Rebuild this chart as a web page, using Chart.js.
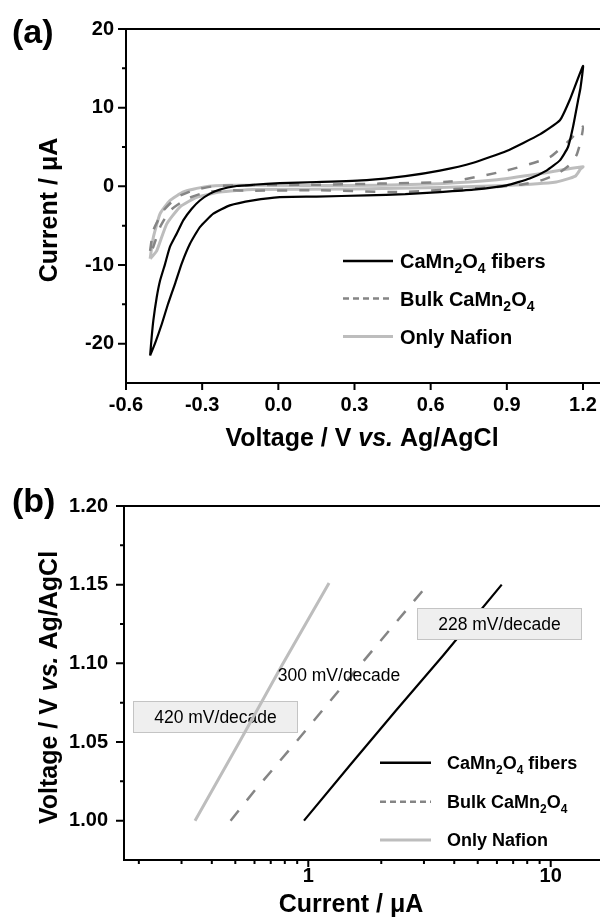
<!DOCTYPE html>
<html><head><meta charset="utf-8">
<script src="https://cdn.jsdelivr.net/npm/chart.js@4.4.0/dist/chart.umd.min.js"></script>
<style>
html,body{margin:0;padding:0;background:#fff;width:600px;height:917px;overflow:hidden}
canvas{position:absolute;left:0}
#c1{top:0}
#c2{top:460px}
</style></head><body>
<canvas id="c1" width="600" height="460"></canvas>
<canvas id="c2" width="600" height="457"></canvas>
<script>
// ---------- (a) cyclic voltammetry ----------
const seriesNames = ['CaMn_2O_4 fibers', 'Bulk CaMn_2O_4', 'Only Nafion'];

const fibersV = [-0.505,-0.499,-0.4925,-0.479,-0.466,-0.446,-0.427,-0.40,-0.374,-0.341,-0.309,-0.269,-0.23,-0.164,-0.099,0.006,0.15,0.348,0.5,0.636,0.768,0.899,1.03,1.109,1.148,1.2,
                 1.19,1.181,1.161,1.141,1.109,1.056,0.99,0.899,0.768,0.636,0.5,0.348,0.15,0.006,-0.099,-0.191,-0.256,-0.309,-0.348,-0.381,-0.407,-0.434,-0.459,-0.486,-0.505];
const fibersI = [-21.5,-19.2,-17.1,-14.1,-12.0,-9.85,-7.7,-6.0,-4.3,-2.85,-1.8,-0.93,-0.4,0.04,0.2,0.4,0.55,0.8,1.3,2.0,3.0,4.5,6.6,8.4,11.0,15.3,
                 12.5,11.0,7.6,5.0,3.3,2.0,1.0,0.13,-0.42,-0.73,-1.0,-1.15,-1.3,-1.36,-1.78,-2.42,-3.48,-5.18,-7.3,-9.85,-12.4,-14.9,-17.5,-20.0,-21.5];

const bulkV = [-0.505,-0.4925,-0.453,-0.40,-0.335,-0.256,-0.112,0.15,0.4,0.676,0.899,1.069,1.148,1.2,
               1.19,1.175,1.15,1.1,1.03,0.95,0.85,0.7,0.48,0.15,-0.112,-0.191,-0.282,-0.361,-0.427,-0.466,-0.4925,-0.505];
const bulkI = [-8.2,-5.6,-3.1,-1.4,-0.5,0.0,0.15,0.2,0.35,0.6,2.0,3.7,5.9,7.6,
               5.6,4.0,2.8,1.6,0.7,0.2,-0.1,-0.35,-0.73,-0.5,-0.55,-0.5,-0.73,-1.6,-3.1,-5.2,-7.7,-8.2];

const nafionV = [-0.505,-0.4925,-0.466,-0.427,-0.374,-0.296,-0.19,0.1,0.4,0.636,0.85,1.03,1.12,1.2,
                 1.19,1.17,1.095,0.899,0.636,0.3,-0.1,-0.23,-0.322,-0.387,-0.44,-0.479,-0.505];
const nafionI = [-9.2,-6.5,-3.5,-1.8,-0.7,-0.1,0.13,0.1,0.15,0.34,0.8,1.6,2.1,2.5,
                 2.2,1.3,0.55,0.1,-0.15,-0.35,-0.4,-0.73,-1.4,-2.6,-4.8,-8.2,-9.2];

const cvVoltTicks = [-0.6,-0.3,0.0,0.3,0.6,0.9,1.2];
const cvCurrTicks = [-20,-10,0,10,20];
const cvCurrMinor = [-15,-5,5,15];

// ---------- (b) Tafel plots ----------
const tafelFibersI = [0.96,1.5,2.3,3.6,6.28];
const tafelFibersV = [1.000,1.036,1.070,1.105,1.150];
const tafelBulkI = [0.478,0.60,0.89,1.66,3.11];
const tafelBulkV = [1.000,1.019,1.050,1.100,1.150];
const tafelNafionI = [0.341,0.52,0.78,1.218];
const tafelNafionV = [1.000,1.050,1.099,1.151];

const tafelCurrTicks = [1,10];
const tafelCurrMinor = [0.2,0.3,0.4,0.5,0.6,0.7,0.8,0.9,2,3,4,5,6,7,8,9];
const tafelVoltTicks = [1.00,1.05,1.10,1.15,1.20];
const tafelVoltMinor = [1.025,1.075,1.125,1.175];
const slopeLabels = ['228 mV/decade','300 mV/decade','420 mV/decade'];

// ---------- helpers ----------
const FONT = '"Liberation Sans", Arial, Helvetica, sans-serif';
const COL = ['#000000','#858585','#bdbdbd'];
const pts = (xs, ys) => xs.map((v,i)=>({x:v, y:ys[i]}));

function parseRich(s){
  const parts=[]; let it=false, buf='';
  const flush=()=>{ if(buf){parts.push({t:buf,it}); buf='';} };
  for(let i=0;i<s.length;i++){
    const c=s[i];
    if(c==='*'){flush(); it=!it;}
    else if(c==='_'){flush(); parts.push({t:s[i+1],it,sub:true}); i++;}
    else buf+=c;
  }
  flush(); return parts;
}
function drawRich(ctx, s, x, y, size, align){
  const parts=parseRich(s);
  const f=p=>`${p.it?'italic ':''}bold ${p.sub?Math.round(size*0.68):size}px ${FONT}`;
  let w=0; parts.forEach(p=>{ctx.font=f(p); w+=ctx.measureText(p.t).width;});
  let cx = align==='center' ? x-w/2 : x;
  ctx.textAlign='left'; ctx.textBaseline='alphabetic'; ctx.fillStyle='#000';
  parts.forEach(p=>{ctx.font=f(p); ctx.fillText(p.t, cx, y+(p.sub?size*0.24:0)); cx+=ctx.measureText(p.t).width;});
}
function drawLegend(ctx, x0, x1, tx, rows, size){
  const styles=[{w:2.5,d:[]},{w:2.5,d:[6,4]},{w:3,d:[]}];
  rows.forEach((ry,i)=>{
    ctx.save();
    ctx.strokeStyle=COL[i]; ctx.lineWidth=styles[i].w; ctx.setLineDash(styles[i].d);
    ctx.beginPath(); ctx.moveTo(x0,ry); ctx.lineTo(x1,ry); ctx.stroke();
    ctx.restore();
    drawRich(ctx, seriesNames[i], tx, ry+size*0.36, size, 'left');
  });
}
function frameAndTicks(chart, o){
  const {ctx, chartArea:a, scales} = chart;
  ctx.save();
  ctx.strokeStyle='#000'; ctx.lineWidth=2; ctx.lineCap='butt';
  ctx.beginPath();
  ctx.moveTo(a.left-1, a.top); ctx.lineTo(600, a.top);
  ctx.moveTo(a.left, a.top-1); ctx.lineTo(a.left, a.bottom+1);
  ctx.moveTo(a.left-1, a.bottom); ctx.lineTo(600, a.bottom);
  o.xMajor.forEach(v=>{const p=scales.x.getPixelForValue(v); ctx.moveTo(p,a.bottom); ctx.lineTo(p,a.bottom+o.xMajLen);});
  o.xMinor.forEach(v=>{const p=scales.x.getPixelForValue(v); ctx.moveTo(p,a.bottom); ctx.lineTo(p,a.bottom+o.xMinLen);});
  o.yMajor.forEach(v=>{const p=scales.y.getPixelForValue(v); ctx.moveTo(a.left,p); ctx.lineTo(a.left-8,p);});
  o.yMinor.forEach(v=>{const p=scales.y.getPixelForValue(v); ctx.moveTo(a.left,p); ctx.lineTo(a.left-4,p);});
  ctx.stroke();
  ctx.restore();
}
function tickFont(){ return {family:FONT, size:20, weight:'bold'}; }

// ---------- chart (a) ----------
new Chart(document.getElementById('c1'), {
  type:'scatter',
  data:{datasets:[
    {label:seriesNames[0], data:pts(fibersV,fibersI), showLine:true, borderColor:COL[0], borderWidth:2.2, pointRadius:0, tension:0.15},
    {label:seriesNames[1], data:pts(bulkV,bulkI), showLine:true, borderColor:COL[1], borderWidth:2.5, borderDash:[10,12], pointRadius:0, tension:0.15},
    {label:seriesNames[2], data:pts(nafionV,nafionI), showLine:true, borderColor:COL[2], borderWidth:3, pointRadius:0, tension:0.15}
  ]},
  options:{
    responsive:false, animation:false, devicePixelRatio:1,
    layout:{autoPadding:false, padding:{top:29,right:1,left:0,bottom:0}},
    plugins:{legend:{display:false}, tooltip:{enabled:false}},
    scales:{
      x:{type:'linear', min:-0.6, max:1.263,
        afterFit(s){s.height=77;},
        afterBuildTicks(s){s.ticks=cvVoltTicks.map(v=>({value:v}));},
        ticks:{callback:v=>Number(v).toFixed(1), font:tickFont(), color:'#000', padding:2, maxRotation:0, autoSkip:false},
        grid:{display:true, drawOnChartArea:false, drawTicks:true, tickLength:8, color:'rgba(0,0,0,0)'},
        border:{display:false}},
      y:{type:'linear', min:-25, max:20,
        afterFit(s){s.width=126;},
        afterBuildTicks(s){s.ticks=cvCurrTicks.map(v=>({value:v}));},
        ticks:{callback:v=>String(v), font:tickFont(), color:'#000', padding:4, autoSkip:false},
        grid:{display:true, drawOnChartArea:false, drawTicks:true, tickLength:8, color:'rgba(0,0,0,0)'},
        border:{display:false}}
    }
  },
  plugins:[{
    id:'decorA',
    afterDatasetsDraw(chart){
      const ctx=chart.ctx;
      frameAndTicks(chart,{xMajor:cvVoltTicks, xMinor:[], yMajor:cvCurrTicks, yMinor:cvCurrMinor, xMajLen:7, xMinLen:4});
      drawLegend(ctx, 343, 393, 400, [261,298.5,336.5], 20);
      ctx.save();
      drawRich(ctx, '(a)', 12, 43, 34, 'left');
      drawRich(ctx, 'Voltage / V *vs.* Ag/AgCl', 362, 446, 25, 'center');
      ctx.translate(57, 210); ctx.rotate(-Math.PI/2);
      drawRich(ctx, 'Current / μA', 0, 0, 25, 'center');
      ctx.restore();
    }
  }]
});

// ---------- chart (b) ----------
function slopeBox(ctx, x0, y0, x1, y1, label){
  ctx.save();
  ctx.fillStyle='#efefef'; ctx.strokeStyle='#c4c4c4'; ctx.lineWidth=1;
  ctx.fillRect(x0,y0,x1-x0,y1-y0); ctx.strokeRect(x0+0.5,y0+0.5,x1-x0-1,y1-y0-1);
  ctx.restore();
  slopeText(ctx, label, (x0+x1)/2, (y0+y1)/2);
}
function slopeText(ctx, label, cx, cy){
  ctx.save();
  ctx.font=`17.5px ${FONT}`; ctx.fillStyle='#000'; ctx.textAlign='center'; ctx.textBaseline='middle';
  ctx.fillText(label, cx, cy+1);
  ctx.restore();
}
new Chart(document.getElementById('c2'), {
  type:'scatter',
  data:{datasets:[
    {label:seriesNames[0], data:pts(tafelFibersI,tafelFibersV), showLine:true, borderColor:COL[0], borderWidth:2.2, pointRadius:0, tension:0},
    {label:seriesNames[1], data:pts(tafelBulkI,tafelBulkV), showLine:true, borderColor:COL[1], borderWidth:2.5, borderDash:[13,13], pointRadius:0, tension:0},
    {label:seriesNames[2], data:pts(tafelNafionI,tafelNafionV), showLine:true, borderColor:COL[2], borderWidth:3, pointRadius:0, tension:0}
  ]},
  options:{
    responsive:false, animation:false, devicePixelRatio:1,
    layout:{autoPadding:false, padding:{top:46,right:1,left:0,bottom:0}},
    plugins:{legend:{display:false}, tooltip:{enabled:false}},
    scales:{
      x:{type:'logarithmic', min:0.1737, max:15.82,
        afterFit(s){s.height=57;},
        afterBuildTicks(s){s.ticks=tafelCurrTicks.map(v=>({value:v}));},
        ticks:{callback:v=>String(v), font:tickFont(), color:'#000', padding:0, maxRotation:0, autoSkip:false},
        grid:{display:true, drawOnChartArea:false, drawTicks:true, tickLength:4, color:'rgba(0,0,0,0)'},
        border:{display:false}},
      y:{type:'linear', min:0.975, max:1.20,
        afterFit(s){s.width=124;},
        afterBuildTicks(s){s.ticks=tafelVoltTicks.map(v=>({value:v}));},
        ticks:{callback:v=>Number(v).toFixed(2), font:tickFont(), color:'#000', padding:8, autoSkip:false},
        grid:{display:true, drawOnChartArea:false, drawTicks:true, tickLength:8, color:'rgba(0,0,0,0)'},
        border:{display:false}}
    }
  },
  plugins:[{
    id:'decorB',
    beforeDatasetsDraw(chart){
      slopeBox(chart.ctx, 133, 241, 298, 273, slopeLabels[2]);
    },
    afterDatasetsDraw(chart){
      const ctx=chart.ctx;
      slopeBox(ctx, 417, 148, 582, 180, slopeLabels[0]);
      slopeText(ctx, slopeLabels[1], 339, 215);
      frameAndTicks(chart,{xMajor:tafelCurrTicks, xMinor:tafelCurrMinor, yMajor:tafelVoltTicks, yMinor:tafelVoltMinor, xMajLen:7, xMinLen:4});
      drawLegend(ctx, 380, 431, 447, [302.7,341.7,380], 18);
      ctx.save();
      drawRich(ctx, '(b)', 12, 52, 34, 'left');
      drawRich(ctx, 'Current / μA', 351, 452, 25, 'center');
      ctx.translate(57, 227.5); ctx.rotate(-Math.PI/2);
      drawRich(ctx, 'Voltage / V *vs.* Ag/AgCl', 0, 0, 25, 'center');
      ctx.restore();
    }
  }]
});
</script>
</body></html>
